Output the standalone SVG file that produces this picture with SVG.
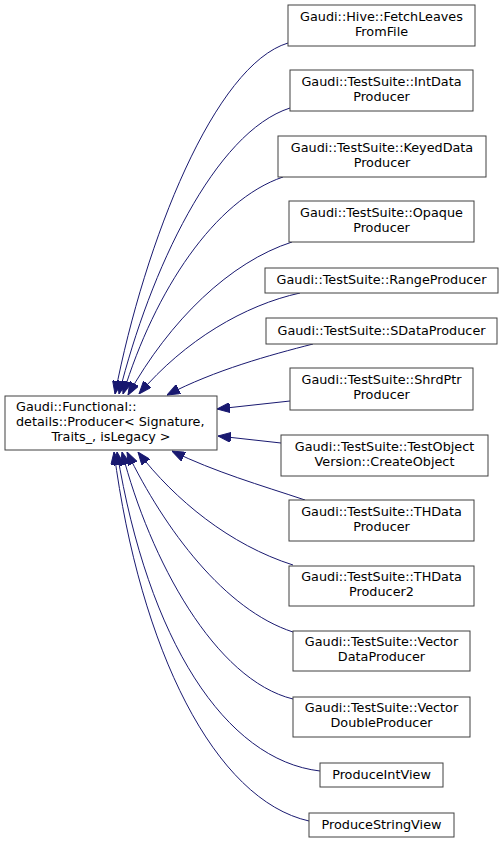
<svg xmlns="http://www.w3.org/2000/svg" width="504" height="845" viewBox="0 0 504 845">
<style>
.n rect{fill:#ffffff;stroke:#404040;stroke-width:1}
.n text{font-family:"DejaVu Sans",sans-serif;font-size:12.8px;fill:#000000;text-anchor:middle}
.e path{fill:none;stroke:#191970;stroke-width:1}
</style>
<defs>
<marker id="ah" viewBox="0 0 13 10" markerWidth="13" markerHeight="10" refX="13" refY="5" orient="auto" markerUnits="userSpaceOnUse">
<path d="M0,0 L13,5 L0,10 z" fill="#191970" stroke="#191970"/>
</marker>
</defs>
<rect width="504" height="845" fill="#ffffff"/>
<g class="e" id="edges">
<path marker-end="url(#ah)" d="M288,43 C215,65 145,240 115,394"/>
<path marker-end="url(#ah)" d="M290,108 C215,132 150,270 119,394"/>
<path marker-end="url(#ah)" d="M283,177 C215,200 155,290 123,394"/>
<path marker-end="url(#ah)" d="M292,242 C230,262 170,320 128,395"/>
<path marker-end="url(#ah)" d="M300,293 C245,305 185,340 139,394"/>
<path marker-end="url(#ah)" d="M313,344 C270,355 215,370 167,395"/>
<path marker-end="url(#ah)" d="M290,401 L217,409"/>
<path marker-end="url(#ah)" d="M281,443 L218,436"/>
<path marker-end="url(#ah)" d="M305,500 C260,485 215,472 172,451"/>
<path marker-end="url(#ah)" d="M293,565 C230,545 175,500 138,452"/>
<path marker-end="url(#ah)" d="M293,632 C225,610 165,530 127,452"/>
<path marker-end="url(#ah)" d="M293,699 C215,680 150,560 122,452"/>
<path marker-end="url(#ah)" d="M320,771 C225,760 148,640 117,452"/>
<path marker-end="url(#ah)" d="M309,821 C215,800 140,650 114,452"/>
</g>
<g class="n" id="main">
<rect x="5" y="396" width="212" height="54"/>
<text x="16" y="411" style="text-anchor:start">Gaudi::Functional::</text>
<text x="16" y="426" style="text-anchor:start">details::Producer&lt; Signature,</text>
<text x="111" y="441">Traits_, isLegacy &gt;</text>
</g>
<g class="n" id="fetchleaves">
<rect x="288" y="5" width="187" height="41"/>
<text x="381.5" y="20.5">Gaudi::Hive::FetchLeaves</text>
<text x="381.5" y="35.5">FromFile</text>
</g>
<g class="n" id="intdata">
<rect x="290" y="70" width="183" height="41"/>
<text x="381.5" y="85.5">Gaudi::TestSuite::IntData</text>
<text x="381.5" y="100.5">Producer</text>
</g>
<g class="n" id="keyeddata">
<rect x="278" y="136" width="208" height="41"/>
<text x="382" y="151.5">Gaudi::TestSuite::KeyedData</text>
<text x="382" y="166.5">Producer</text>
</g>
<g class="n" id="opaque">
<rect x="289" y="201" width="185" height="41"/>
<text x="381.5" y="216.5">Gaudi::TestSuite::Opaque</text>
<text x="381.5" y="231.5">Producer</text>
</g>
<g class="n" id="range">
<rect x="265" y="268" width="233" height="25"/>
<text x="381.5" y="284">Gaudi::TestSuite::RangeProducer</text>
</g>
<g class="n" id="sdata">
<rect x="266" y="318" width="231" height="26"/>
<text x="381.5" y="334.5">Gaudi::TestSuite::SDataProducer</text>
</g>
<g class="n" id="shrdptr">
<rect x="290" y="368" width="183" height="42"/>
<text x="381.5" y="383.5">Gaudi::TestSuite::ShrdPtr</text>
<text x="381.5" y="398.5">Producer</text>
</g>
<g class="n" id="testobject">
<rect x="281" y="435" width="207" height="41"/>
<text x="384.5" y="450.5">Gaudi::TestSuite::TestObject</text>
<text x="384.5" y="465.5">Version::CreateObject</text>
</g>
<g class="n" id="thdata">
<rect x="289" y="500" width="185" height="41"/>
<text x="381.5" y="515.5">Gaudi::TestSuite::THData</text>
<text x="381.5" y="530.5">Producer</text>
</g>
<g class="n" id="thdata2">
<rect x="289" y="566" width="185" height="40"/>
<text x="381.5" y="581">Gaudi::TestSuite::THData</text>
<text x="381.5" y="596">Producer2</text>
</g>
<g class="n" id="vectordata">
<rect x="293" y="631" width="177" height="40"/>
<text x="381.5" y="646">Gaudi::TestSuite::Vector</text>
<text x="381.5" y="661">DataProducer</text>
</g>
<g class="n" id="vectordouble">
<rect x="293" y="697" width="177" height="40"/>
<text x="381.5" y="712">Gaudi::TestSuite::Vector</text>
<text x="381.5" y="727">DoubleProducer</text>
</g>
<g class="n" id="intview">
<rect x="320" y="763" width="123" height="24"/>
<text x="381.5" y="779">ProduceIntView</text>
</g>
<g class="n" id="stringview">
<rect x="309" y="813" width="145" height="24"/>
<text x="381.5" y="829">ProduceStringView</text>
</g>
</svg>
